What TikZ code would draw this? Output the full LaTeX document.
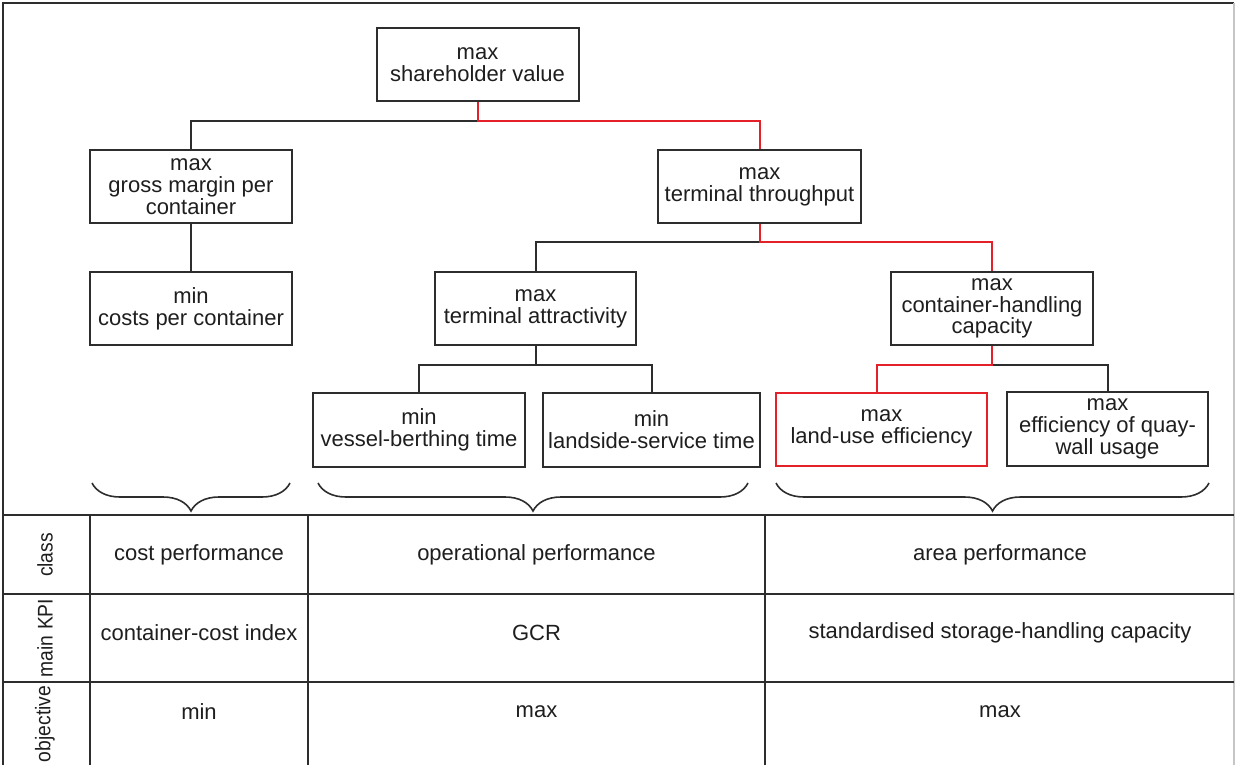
\documentclass[tikz,border=0pt]{standalone}
\usepackage{fontspec}
\setmainfont{Liberation Sans}
\usetikzlibrary{calc,decorations.pathreplacing}
\definecolor{pathred}{RGB}{228,32,40}
\definecolor{linegray}{RGB}{45,45,45}
\definecolor{txt}{RGB}{30,30,30}
\newcommand{\narrowlabel}[1]{\scalebox{0.91}[1]{#1}}
\begin{document}
\begin{tikzpicture}[x=0.5pt,y=-0.5pt,
  font=\fontsize{11}{10.9}\selectfont,
  every node/.style={text=txt},
  box/.style={draw=linegray,line width=1pt,align=center,inner sep=0pt,minimum height=36.5pt},
  redbox/.style={box,draw=pathred},
  conn/.style={draw=linegray,line width=1pt},
  redconn/.style={draw=pathred,line width=1pt},
  tabline/.style={draw=linegray,line width=1pt},
  bracket/.style={draw=linegray,line width=0.8pt,decorate,
    decoration={brace,mirror,amplitude=14pt}},
  cell/.style={inner sep=0pt,anchor=center},
  rowlabel/.style={inner sep=0pt,rotate=90,anchor=center,
    font=\fontsize{10.6}{12}\selectfont}]
\useasboundingbox (0,0) rectangle (1236,765);
\clip (0,0) rectangle (1236,765);

% outer frame (open at the bottom)
\draw[tabline] (3,800) -- (3,3) -- (1234,3);
\draw[gray!45,line width=0.8pt] (1234,3) -- (1234,800);

% objective tree
\node[box,minimum width=101pt]   (sv)  at (477.5,64.5)  {max\\shareholder value};
\node[box,minimum width=101pt]   (gm)  at (191,186.5)   {max\\gross margin per\\container};
\node[box,minimum width=101pt]   (cpc) at (191,308.5)   {min\\costs per container};
\node[box,minimum width=101.5pt] (tt)  at (759.5,186.5) {max\\terminal throughput};
\node[box,minimum width=100.5pt] (ta)  at (535.5,308.5) {max\\terminal attractivity};
\node[box,minimum width=101pt]   (chc) at (992,308.5)   {max\\container-handling\\capacity};
\node[box,minimum width=106pt,minimum height=37pt]   (vbt) at (419,430)    {min\\vessel-berthing time};
\node[box,minimum width=108.5pt,minimum height=37pt] (lst) at (651.5,430)  {min\\landside-service time};
\node[redbox,minimum width=105.5pt] (lue) at (881.5,429) {max\\land-use efficiency};
\node[box,minimum width=100.5pt,minimum height=37pt] (qwu) at (1107.5,429) {max\\efficiency of quay-\\wall usage};

% connectors
\draw[conn] ($(sv.south)+(0,19)$) -| (gm.north);
\draw[redconn] (sv.south) -- ++(0,19) -| (tt.north);
\draw[conn] (gm.south) -- (cpc.north);
\draw[conn] ($(tt.south)+(0,18)$) -| (ta.north);
\draw[redconn] (tt.south) -- ++(0,18) -| (chc.north);
\draw[conn] (ta.south) -- ++(0,19) -| (vbt.north);
\draw[conn] (ta.south) -- ++(0,19) -| (lst.north);
\draw[conn] ($(chc.south)+(0,19)$) -| (qwu.north);
\draw[redconn] (chc.south) -- ++(0,19) -| ($(lue.north)+(-4.5,0)$);

% braces grouping the leaves
\coordinate (b1l) at (92,483);   \coordinate (b1r) at (290,483);
\coordinate (b2l) at (318,483);  \coordinate (b2r) at (748,483);
\coordinate (b3l) at (776,483);  \coordinate (b3r) at (1209,483);
\draw[bracket] (b1l) -- (b1r);
\draw[bracket] (b2l) -- (b2r);
\draw[bracket] (b3l) -- (b3r);

% classification table
\draw[tabline] (3,515) -- (1234,515);
\draw[tabline] (3,594) -- (1234,594);
\draw[tabline] (3,682) -- (1234,682);
\draw[tabline] (90,515) -- (90,800);
\draw[tabline] (308,515) -- (308,800);
\draw[tabline] (765,515) -- (765,800);

\node[rowlabel] (lclass) at (45,555) {\narrowlabel{class}};
\node[rowlabel] (lkpi)   at (45,638) {\narrowlabel{main KPI}};
\node[rowlabel] (lobj)   at (45,724) {\narrowlabel{objective}};

\node[cell] (c11) at (199,555)   {cost performance};
\node[cell] (c12) at (536.5,555) {operational performance};
\node[cell] (c13) at (1000,555)  {area performance};
\node[cell] (c21) at (199,633)   {container-cost index};
\node[cell] (c22) at (536.5,633) {GCR};
\node[cell] (c23) at (1000,633)  {standardised storage-handling capacity};
\node[cell] (c31) at (199,712)   {min};
\node[cell] (c32) at (536.5,712) {max};
\node[cell] (c33) at (1000,712)  {max};
\end{tikzpicture}
\end{document}
